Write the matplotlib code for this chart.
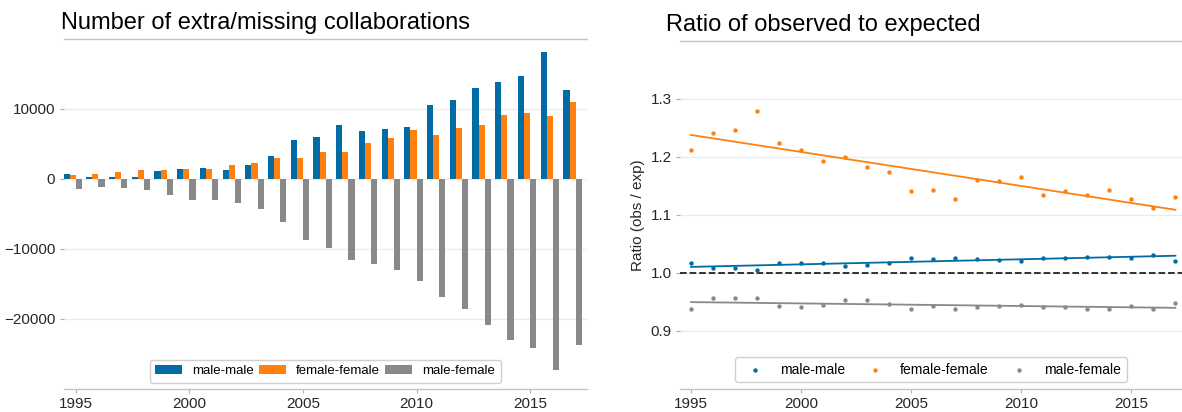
import matplotlib
matplotlib.use('Agg')
import matplotlib.pyplot as plt
import numpy as np

plt.rcParams['font.family'] = ['Liberation Sans', 'DejaVu Sans']

years = np.arange(1995, 2018)

# observed - expected number of collaborations
male_male = [700, 250, 250, 250, 1050, 1380, 1530, 1290, 1910, 3240, 5580, 5960,
             7730, 6780, 7160, 7400, 10600, 11220, 12980, 13840, 14650, 18140, 12740]
female_female = [570, 715, 950, 1290, 1190, 1380, 1380, 2000, 2240, 2960, 2960, 3820,
                 3820, 5100, 5820, 7010, 6200, 7250, 7730, 9160, 9400, 8920, 10970]
male_female = [-1430, -1190, -1290, -1670, -2340, -3000, -3100, -3440, -4300, -6200,
               -8690, -9880, -11650, -12120, -12980, -14560, -16940, -18570, -20860,
               -23050, -24150, -27300, -23820]

# observed / expected
ratio_mm = [1.017, 1.0075, 1.0075, 1.004, 1.016, 1.017, 1.016, 1.012, 1.013, 1.017,
            1.025, 1.023, 1.026, 1.023, 1.022, 1.021, 1.026, 1.026, 1.027, 1.027,
            1.026, 1.031, 1.021]
ratio_ff = [1.212, 1.241, 1.247, 1.280, 1.224, 1.212, 1.192, 1.200, 1.183, 1.173,
            1.141, 1.143, 1.128, 1.160, 1.158, 1.166, 1.134, 1.141, 1.134, 1.143,
            1.128, 1.112, 1.131]
ratio_mf = [0.938, 0.956, 0.956, 0.956, 0.942, 0.941, 0.945, 0.952, 0.952, 0.946,
            0.938, 0.943, 0.938, 0.941, 0.942, 0.945, 0.941, 0.941, 0.938, 0.937,
            0.943, 0.938, 0.948]

labels = ['male-male', 'female-female', 'male-female']
colors = ['#006BA4', '#FF800E', '#898989']

W, H = 1182, 412
fig = plt.figure(figsize=(W / 100, H / 100), dpi=100)
ax1 = fig.add_axes([63.5 / W, 23.5 / H, 523.5 / W, 349.5 / H])
ax2 = fig.add_axes([680 / W, 23.5 / H, 502 / W, 347.5 / H])


def style(ax):
    for s in ['left', 'right']:
        ax.spines[s].set_visible(False)
    for s in ['top', 'bottom']:
        ax.spines[s].set_color('#c4c4c4')
        ax.spines[s].set_linewidth(1)
    ax.yaxis.grid(True, color='#ebebeb', linewidth=1)
    ax.set_axisbelow(True)
    ax.tick_params(length=3, color='#b0b0b0', labelcolor='#262626', labelsize=11, pad=3)
    ax.set_xticks([1995, 2000, 2005, 2010, 2015])


# left: bars, grey bar starts at the year tick
w = 0.27
for i, vals in enumerate([male_male, female_female, male_female]):
    ax1.bar(years + (i - 2) * w, vals, w, align='edge', color=colors[i], label=labels[i])
style(ax1)
ax1.set_xlim(1994.46, 2017.5)
ax1.set_ylim(-30000, 20000)
ax1.set_yticks([-20000, -10000, 0, 10000])
ax1.set_title('Number of extra/missing collaborations', loc='left', fontsize=17,
              pad=7, x=-0.005)
ax1.legend(loc='lower center', ncol=3, fontsize=9.5, columnspacing=0.4,
           borderaxespad=0.45, edgecolor='#d0d0d0', framealpha=1)

# right: ratios with linear fits
ax2.axhline(1.0, color='#222222', linestyle='--', linewidth=1.3, zorder=1)
for vals, c, lab in zip([ratio_mm, ratio_ff, ratio_mf], colors, labels):
    ax2.scatter(years, vals, s=10, color=c, label=lab, zorder=3, linewidths=0)
    fit = np.polyfit(years, vals, 1)
    ax2.plot(years, np.polyval(fit, years), color=c, linewidth=1.3, zorder=2)
style(ax2)
ax2.set_xlim(1994.5, 2017.3)
ax2.set_ylim(0.8, 1.4)
ax2.set_yticks([0.9, 1.0, 1.1, 1.2, 1.3])
ax2.set_ylabel('Ratio (obs / exp)', fontsize=11, color='#262626')
ax2.set_title('Ratio of observed to expected', loc='left', fontsize=17,
              pad=7, x=-0.028)
ax2.legend(loc='lower center', ncol=3, fontsize=10, columnspacing=1.2,
           borderaxespad=0.45, edgecolor='#d0d0d0', framealpha=1, scatterpoints=1)

fig.savefig('out.png', dpi=100)
